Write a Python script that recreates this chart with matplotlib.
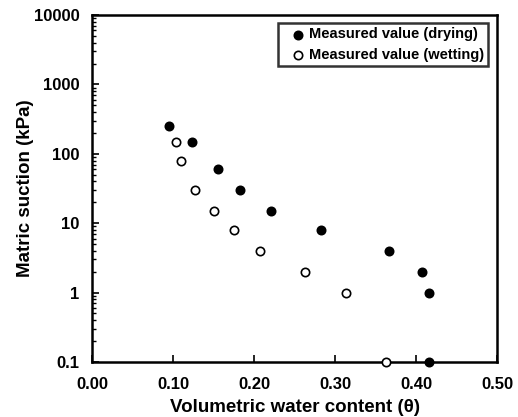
import matplotlib.pyplot as plt
from matplotlib.ticker import LogLocator, FixedLocator, NullFormatter
import numpy as np

plt.rcParams['font.family'] = ['Liberation Sans', 'DejaVu Sans']
plt.rcParams['font.weight'] = 'bold'

# drying branch
theta_dry = [0.095, 0.124, 0.155, 0.183, 0.221, 0.283, 0.367, 0.408, 0.416, 0.416]
suction_dry = [250, 150, 60, 30, 15, 8, 4, 2, 1, 0.1]

# wetting branch
theta_wet = [0.104, 0.110, 0.127, 0.150, 0.175, 0.208, 0.263, 0.314, 0.363]
suction_wet = [150, 80, 30, 15, 8, 4, 2, 1, 0.1]

xticks = [0.0, 0.1, 0.2, 0.3, 0.4, 0.5]
yticks = [0.1, 1, 10, 100, 1000, 10000]
ytick_labels = ['0.1', '1', '10', '100', '1000', '10000']

fig = plt.figure(figsize=(5.18, 4.17), dpi=100)
ax = fig.add_axes([92 / 518, 1 - 362 / 417, 405 / 518, 347 / 417])

ax.scatter(theta_dry, suction_dry, s=36, c='black', edgecolors='black',
           linewidths=1.2, label='Measured value (drying)', clip_on=False, zorder=3)
ax.scatter(theta_wet, suction_wet, s=36, facecolors='white', edgecolors='black',
           linewidths=1.2, label='Measured value (wetting)', clip_on=False, zorder=3)

ax.set_yscale('log')
ax.set_xlim(0, 0.5)
ax.set_ylim(0.1, 10000)

ax.xaxis.set_major_locator(FixedLocator(xticks))
ax.set_xticklabels([f'{v:.2f}' for v in xticks])
ax.yaxis.set_major_locator(FixedLocator(yticks))
ax.set_yticklabels(ytick_labels)
ax.yaxis.set_minor_locator(LogLocator(base=10, subs=np.arange(2, 10)))
ax.yaxis.set_minor_formatter(NullFormatter())

ax.tick_params(axis='both', which='major', direction='in', length=5, width=1.2,
               labelsize=12)
ax.tick_params(axis='x', which='major', pad=11)
ax.tick_params(axis='y', which='major', pad=9)
ax.tick_params(axis='y', which='minor', direction='in', length=3, width=1)
ax.tick_params(top=False, right=False)
for lbl in ax.get_xticklabels() + ax.get_yticklabels():
    lbl.set_fontweight('bold')

for s in ax.spines.values():
    s.set_linewidth(1.8)

ax.set_xlabel('Volumetric water content (θ)', fontsize=13.5, fontweight='bold', labelpad=5)
ax.set_ylabel('Matric suction (kPa)', fontsize=13.5, fontweight='bold', labelpad=0)

leg = ax.legend(loc='upper right', bbox_to_anchor=(0.985, 0.985), frameon=True,
                fancybox=False, edgecolor='black', handletextpad=-0.28,
                borderpad=0.3, labelspacing=0.42, handlelength=2.06,
                borderaxespad=0.2, prop={'size': 10.5, 'weight': 'bold'})
leg.get_frame().set_linewidth(1.8)

fig.savefig('out.png', dpi=100)
